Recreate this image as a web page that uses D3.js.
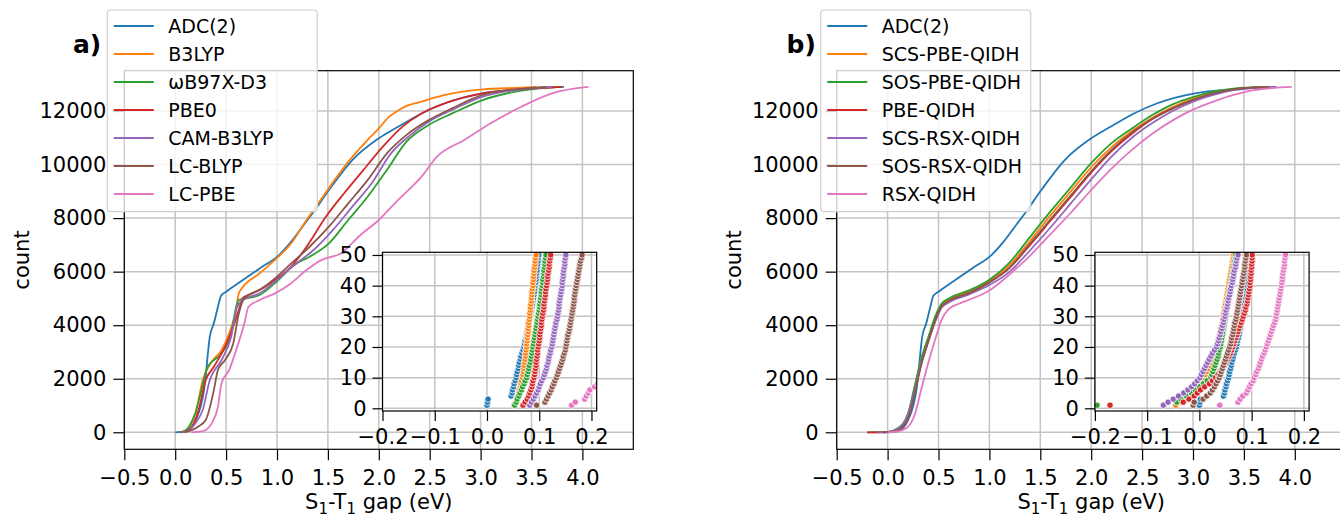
<!DOCTYPE html>
<html lang="en">
<head>
<meta charset="utf-8">
<title>S1-T1 gap cumulative counts</title>
<script src="https://cdn.jsdelivr.net/npm/d3@7"></script>
<style>
  body { margin: 0; background: #fff; }
  svg { display: block; font-family: "DejaVu Sans", sans-serif; }
</style>
</head>
<body>
<script>
// colours (matplotlib tab10)
var colors = ['#1f77b4', '#ff7f0e', '#2ca02c', '#d62728', '#9467bd', '#8c564b', '#e377c2'];

var namesA = ['ADC(2)', 'B3LYP', '\u03c9B97X-D3', 'PBE0', 'CAM-B3LYP', 'LC-BLYP', 'LC-PBE'];
var namesB = ['ADC(2)', 'SCS-PBE-QIDH', 'SOS-PBE-QIDH', 'PBE-QIDH', 'SCS-RSX-QIDH', 'SOS-RSX-QIDH', 'RSX-QIDH'];

var xTicks = [-0.5, 0, 0.5, 1, 1.5, 2, 2.5, 3, 3.5, 4];
var yTicks = [0, 2000, 4000, 6000, 8000, 10000, 12000];
var insetXTicks = [-0.2, -0.1, 0, 0.1, 0.2];
var insetYTicks = [0, 10, 20, 30, 40, 50];

// cumulative count vs gap (eV): [gap, count]
var adc2 = [[0.0,0],[0.1,45],[0.15,150],[0.2,450],[0.25,960],[0.28,1500],[0.3,2080],[0.32,2900],[0.34,3570],[0.38,4070],[0.42,4690],[0.45,5100],[0.5,5250],[0.64,5620],[0.83,6120],[1.02,6620],[1.14,7120],[1.25,7680],[1.36,8240],[1.51,9050],[1.74,10170],[2.0,10980],[2.19,11410],[2.42,11910],[2.65,12290],[3.02,12660],[3.40,12810],[3.82,12900]];
var b3lyp = [[0.05,0],[0.09,50],[0.15,250],[0.2,700],[0.27,1950],[0.36,2640],[0.455,3070],[0.53,3700],[0.59,4440],[0.625,5190],[0.65,5350],[0.83,5940],[0.98,6440],[1.14,7060],[1.29,7930],[1.44,8740],[1.59,9550],[1.74,10290],[1.89,10920],[2.0,11350],[2.1,11780],[2.19,12020],[2.28,12200],[2.42,12350],[2.65,12600],[3.02,12810],[3.40,12870],[3.55,12900]];
var wb97xd3 = [[0.05,0],[0.1,60],[0.15,300],[0.2,750],[0.25,1460],[0.32,2450],[0.455,2950],[0.55,3700],[0.6,4690],[0.625,4940],[0.7,5000],[0.83,5130],[0.98,5570],[1.17,6250],[1.32,6560],[1.51,7060],[1.70,7930],[1.89,8800],[2.08,9800],[2.27,10850],[2.49,11480],[2.72,11910],[3.02,12410],[3.40,12760],[3.78,12900]];
var pbe0 = [[0.06,0],[0.12,50],[0.18,300],[0.23,830],[0.30,1950],[0.38,2450],[0.49,3200],[0.57,3940],[0.625,4570],[0.66,5000],[0.7,5100],[0.83,5320],[0.98,5690],[1.14,6190],[1.29,6930],[1.48,8050],[1.66,8930],[1.85,9800],[2.04,10670],[2.23,11410],[2.42,11910],[2.65,12290],[3.02,12660],[3.40,12810],[3.80,12900]];
var camb3lyp = [[0.07,0],[0.13,60],[0.2,350],[0.27,830],[0.34,1950],[0.455,2700],[0.55,3570],[0.61,4690],[0.66,4940],[0.83,5190],[0.98,5630],[1.17,6250],[1.36,6810],[1.55,7560],[1.74,8430],[1.93,9300],[2.12,10420],[2.31,11100],[2.49,11600],[2.72,12040],[3.02,12540],[3.40,12810],[3.70,12900]];
var lcblyp = [[0.09,0],[0.15,60],[0.22,200],[0.30,460],[0.38,1580],[0.42,2330],[0.49,2700],[0.57,3320],[0.625,4440],[0.68,5000],[0.83,5320],[0.98,5750],[1.14,6310],[1.32,6930],[1.51,7680],[1.70,8550],[1.89,9420],[2.08,10420],[2.27,11100],[2.49,11660],[2.72,12100],[3.02,12600],[3.40,12830],[3.65,12900]];
var lcpbe = [[0.16,0],[0.25,30],[0.30,86],[0.36,340],[0.42,960],[0.455,1830],[0.53,2330],[0.61,3200],[0.68,4070],[0.72,4690],[0.83,4940],[0.98,5190],[1.14,5570],[1.29,6060],[1.44,6440],[1.63,6690],[1.82,7370],[2.0,7930],[2.19,8680],[2.42,9550],[2.57,10290],[2.84,10920],[3.10,11540],[3.40,12160],[3.70,12660],[4.06,12900]];

var scsPbeQidh = [[-0.05,0],[0.05,30],[0.15,250],[0.22,900],[0.28,1900],[0.33,2700],[0.4,3500],[0.47,4300],[0.53,4750],[0.6,4950],[0.8,5250],[1.0,5650],[1.2,6250],[1.4,7150],[1.6,8100],[1.8,9000],[2.0,9900],[2.2,10650],[2.4,11250],[2.6,11750],[2.8,12150],[3.0,12450],[3.2,12680],[3.4,12820],[3.7,12900]];
var sosPbeQidh = [[-0.2,0],[0.0,15],[0.1,150],[0.2,700],[0.27,1800],[0.33,2750],[0.4,3550],[0.47,4350],[0.53,4800],[0.6,5000],[0.8,5300],[1.0,5700],[1.2,6350],[1.4,7300],[1.6,8250],[1.8,9150],[2.0,10050],[2.2,10800],[2.4,11350],[2.6,11850],[2.8,12250],[3.0,12520],[3.2,12720],[3.4,12840],[3.7,12900]];
var pbeQidh = [[-0.2,0],[0.0,10],[0.1,100],[0.2,600],[0.27,1600],[0.33,2550],[0.4,3400],[0.47,4200],[0.53,4700],[0.6,4900],[0.8,5200],[1.0,5600],[1.2,6150],[1.4,7000],[1.6,7900],[1.8,8800],[2.0,9700],[2.2,10500],[2.4,11150],[2.6,11700],[2.8,12100],[3.0,12400],[3.2,12650],[3.4,12800],[3.75,12900]];
var scsRsxQidh = [[-0.1,0],[0.0,10],[0.1,120],[0.2,650],[0.27,1650],[0.33,2600],[0.4,3400],[0.47,4150],[0.53,4650],[0.6,4850],[0.8,5150],[1.0,5500],[1.2,6000],[1.4,6800],[1.6,7650],[1.8,8550],[2.0,9450],[2.2,10300],[2.4,11000],[2.6,11550],[2.8,12000],[3.0,12350],[3.2,12600],[3.4,12780],[3.8,12900]];
var sosRsxQidh = [[-0.05,0],[0.05,20],[0.15,200],[0.22,700],[0.28,1700],[0.34,2650],[0.4,3400],[0.47,4200],[0.53,4700],[0.6,4900],[0.8,5200],[1.0,5600],[1.2,6150],[1.4,7050],[1.6,7950],[1.8,8850],[2.0,9750],[2.2,10550],[2.4,11200],[2.6,11700],[2.8,12100],[3.0,12420],[3.2,12660],[3.4,12810],[3.75,12900]];
var rsxQidh = [[0.0,0],[0.1,30],[0.2,200],[0.27,700],[0.33,1600],[0.4,2600],[0.47,3500],[0.53,4200],[0.6,4600],[0.7,4800],[0.8,4950],[1.0,5300],[1.2,5900],[1.4,6600],[1.6,7400],[1.8,8200],[2.0,9050],[2.2,9850],[2.4,10550],[2.6,11150],[2.8,11650],[3.0,12050],[3.2,12350],[3.4,12600],[3.6,12780],[3.97,12900]];

// inset: gap (eV) of the 1st, 2nd, 3rd ... lowest molecule (count = index + 1)
var adc2Low = [0.000,0.001,0.002,0.046,0.048,0.049,0.051,0.052,0.054,0.056,0.057,0.058,0.060,0.061,0.062,0.064,0.065,0.067,0.069,0.071,0.072,0.073,0.075,0.076,0.077,0.078,0.079,0.080,0.082,0.083,0.084,0.085,0.086,0.087,0.088,0.089,0.090,0.091,0.091,0.092,0.093,0.094,0.094,0.095,0.096,0.096,0.097,0.098,0.098,0.099];
var b3lypLow = [0.052,0.055,0.057,0.059,0.061,0.062,0.064,0.065,0.066,0.068,0.069,0.070,0.071,0.071,0.072,0.073,0.074,0.074,0.075,0.076,0.076,0.077,0.077,0.078,0.079,0.079,0.080,0.080,0.081,0.082,0.082,0.083,0.083,0.084,0.085,0.085,0.086,0.086,0.087,0.088,0.088,0.089,0.089,0.090,0.090,0.091,0.092,0.092,0.093,0.094];
var wb97xd3Low = [0.053,0.056,0.058,0.061,0.063,0.066,0.068,0.071,0.073,0.076,0.077,0.079,0.080,0.081,0.083,0.084,0.085,0.086,0.087,0.088,0.089,0.090,0.091,0.092,0.093,0.094,0.095,0.096,0.097,0.098,0.099,0.100,0.101,0.101,0.102,0.103,0.104,0.104,0.105,0.106,0.107,0.107,0.108,0.109,0.109,0.110,0.111,0.111,0.112,0.113];
var pbe0Low = [0.069,0.073,0.077,0.080,0.082,0.084,0.086,0.087,0.088,0.090,0.091,0.092,0.093,0.094,0.094,0.095,0.096,0.097,0.097,0.098,0.099,0.100,0.101,0.101,0.102,0.103,0.104,0.104,0.105,0.106,0.107,0.108,0.109,0.109,0.110,0.111,0.112,0.112,0.113,0.114,0.115,0.116,0.116,0.117,0.118,0.119,0.119,0.120,0.121,0.122];
var camb3lypLow = [0.082,0.085,0.089,0.092,0.095,0.098,0.100,0.102,0.105,0.108,0.110,0.112,0.114,0.115,0.117,0.118,0.119,0.121,0.122,0.124,0.125,0.126,0.127,0.128,0.129,0.130,0.131,0.132,0.134,0.135,0.136,0.137,0.138,0.138,0.139,0.140,0.141,0.142,0.143,0.144,0.144,0.145,0.146,0.146,0.147,0.148,0.149,0.149,0.150,0.151];
var lcblypLow = [0.095,0.111,0.114,0.117,0.120,0.123,0.125,0.128,0.130,0.133,0.135,0.137,0.139,0.141,0.143,0.145,0.146,0.148,0.150,0.151,0.152,0.153,0.154,0.155,0.157,0.158,0.159,0.160,0.161,0.162,0.163,0.164,0.165,0.166,0.167,0.167,0.168,0.169,0.170,0.171,0.172,0.173,0.174,0.175,0.176,0.177,0.178,0.179,0.181,0.182];
var lcpbeLow = [0.162,0.169,0.187,0.190,0.194,0.197,0.206,0.212,0.216,0.219];

var scsPbeQidhLow = [-0.045,-0.040,-0.035,-0.028,-0.020,-0.014,-0.008,-0.002,0.004,0.008,0.011,0.014,0.017,0.020,0.022,0.025,0.027,0.029,0.031,0.033,0.034,0.036,0.037,0.039,0.040,0.041,0.043,0.044,0.045,0.046,0.047,0.048,0.049,0.050,0.051,0.052,0.053,0.054,0.055,0.056,0.057,0.058,0.059,0.060,0.061,0.062,0.063,0.064,0.065,0.066];
var sosPbeQidhLow = [-0.196,-0.043,-0.036,-0.025,-0.015,-0.008,0.000,0.008,0.015,0.022,0.024,0.026,0.028,0.030,0.032,0.034,0.036,0.037,0.038,0.040,0.041,0.042,0.043,0.044,0.045,0.046,0.047,0.048,0.049,0.050,0.051,0.052,0.053,0.054,0.055,0.056,0.057,0.058,0.059,0.060,0.061,0.062,0.063,0.064,0.065,0.066,0.067,0.068,0.069,0.070];
var pbeQidhLow = [-0.171,-0.031,-0.020,-0.010,-0.004,0.002,0.010,0.019,0.025,0.031,0.036,0.040,0.044,0.048,0.051,0.054,0.057,0.060,0.062,0.064,0.066,0.068,0.070,0.072,0.074,0.076,0.078,0.080,0.082,0.084,0.086,0.088,0.089,0.091,0.092,0.093,0.094,0.095,0.096,0.097,0.097,0.098,0.098,0.099,0.099,0.100,0.100,0.101,0.101,0.101];
var scsRsxQidhLow = [-0.069,-0.060,-0.050,-0.040,-0.030,-0.022,-0.015,-0.009,-0.004,0.001,0.004,0.007,0.010,0.013,0.016,0.019,0.022,0.025,0.029,0.033,0.035,0.037,0.038,0.040,0.041,0.043,0.044,0.046,0.047,0.049,0.050,0.051,0.053,0.054,0.055,0.056,0.058,0.059,0.060,0.061,0.063,0.064,0.065,0.066,0.067,0.069,0.070,0.071,0.072,0.074];
var sosRsxQidhLow = [-0.012,-0.010,0.007,0.014,0.021,0.025,0.029,0.032,0.035,0.038,0.040,0.042,0.044,0.046,0.048,0.050,0.052,0.054,0.056,0.058,0.060,0.061,0.062,0.064,0.065,0.066,0.067,0.068,0.070,0.071,0.072,0.073,0.074,0.075,0.076,0.077,0.078,0.079,0.080,0.081,0.082,0.083,0.084,0.085,0.086,0.087,0.087,0.088,0.089,0.090];
var rsxQidhLow = [0.039,0.074,0.078,0.083,0.090,0.093,0.096,0.099,0.103,0.105,0.108,0.110,0.113,0.115,0.117,0.119,0.121,0.124,0.126,0.128,0.130,0.132,0.134,0.136,0.138,0.140,0.142,0.144,0.146,0.147,0.148,0.149,0.150,0.151,0.152,0.153,0.154,0.155,0.156,0.157,0.158,0.159,0.159,0.160,0.161,0.162,0.163,0.163,0.164,0.165];

var panels = [
  { ox: 124.3, tag: 'a)', tagX: 73, legX: 107.3, names: namesA,
    curves: [adc2, b3lyp, wb97xd3, pbe0, camb3lyp, lcblyp, lcpbe],
    low: [adc2Low, b3lypLow, wb97xd3Low, pbe0Low, camb3lypLow, lcblypLow, lcpbeLow] },
  { ox: 836.7, tag: 'b)', tagX: 786.5, legX: 820.7, names: namesB,
    curves: [adc2, scsPbeQidh, sosPbeQidh, pbeQidh, scsRsxQidh, sosRsxQidh, rsxQidh],
    low: [adc2Low, scsPbeQidhLow, sosPbeQidhLow, pbeQidhLow, scsRsxQidhLow, sosRsxQidhLow, rsxQidhLow] }
];

var width = 1340, height = 517;
var svg = d3.select('body').append('svg').attr('width', width).attr('height', height);

var axTop = 70.7, axBottom = 449.3, axW = 509;
var tickFont = 21, gridColor = '#c4c4c4';

function styleAxis(g) {
  g.select('.domain').remove();
  g.selectAll('.tick line').attr('stroke', '#000').attr('stroke-width', 1.2);
  g.selectAll('.tick text').attr('font-size', tickFont).attr('fill', '#000')
    .attr('font-family', '"DejaVu Sans", sans-serif');
}
function fmt(d) { return d3.format('.1f')(d).replace('-', '\u2212'); }

panels.forEach(function(p, pi) {
  var g = svg.append('g');
  var x = d3.scaleLinear().domain([-0.5, 4.5]).range([p.ox, p.ox + axW]);
  var y = d3.scaleLinear().domain([-635, 13506]).range([axBottom, axTop]);

  // grid
  g.append('g').selectAll('line').data(xTicks).enter().append('line')
    .attr('x1', d => x(d)).attr('x2', d => x(d)).attr('y1', axTop).attr('y2', axBottom)
    .attr('stroke', gridColor).attr('stroke-width', 1.5);
  g.append('g').selectAll('line').data(yTicks).enter().append('line')
    .attr('x1', p.ox).attr('x2', p.ox + axW).attr('y1', d => y(d)).attr('y2', d => y(d))
    .attr('stroke', gridColor).attr('stroke-width', 1.5);

  // curves
  var clipId = 'clip' + pi;
  svg.append('clipPath').attr('id', clipId).append('rect')
    .attr('x', p.ox).attr('y', axTop).attr('width', axW).attr('height', axBottom - axTop);
  var line = d3.line().x(d => x(d[0])).y(d => y(d[1])).curve(d3.curveMonotoneX);
  g.append('g').attr('clip-path', 'url(#' + clipId + ')')
    .selectAll('path').data(p.curves).enter().append('path')
    .attr('d', line).attr('fill', 'none')
    .attr('stroke', (d, i) => colors[i]).attr('stroke-width', 1.8);

  // frame
  g.append('rect').attr('x', p.ox).attr('y', axTop).attr('width', axW).attr('height', axBottom - axTop)
    .attr('fill', 'none').attr('stroke', '#000').attr('stroke-width', 1.2);

  // axes
  g.append('g').attr('transform', 'translate(0,' + axBottom + ')')
    .call(d3.axisBottom(x).tickValues(xTicks).tickSize(11).tickPadding(10).tickFormat(fmt))
    .call(styleAxis);
  g.append('g').attr('transform', 'translate(' + p.ox + ',0)')
    .call(d3.axisLeft(y).tickValues(yTicks).tickSize(11).tickPadding(7).tickFormat(d3.format('d')))
    .call(styleAxis);

  // labels
  var xl = g.append('text').attr('x', p.ox + axW / 2).attr('y', 509)
    .attr('text-anchor', 'middle').attr('font-size', 21);
  xl.append('tspan').text('S');
  xl.append('tspan').attr('dy', 5).attr('font-size', 15).text('1');
  xl.append('tspan').attr('dy', -5).text('-T');
  xl.append('tspan').attr('dy', 5).attr('font-size', 15).text('1');
  xl.append('tspan').attr('dy', -5).text(' gap (eV)');
  g.append('text').attr('transform', 'translate(' + (p.ox - 95.8) + ',260) rotate(-90)')
    .attr('text-anchor', 'middle').attr('font-size', 21).text('count');

  // inset
  var ix0 = p.ox + 258.2, ix1 = p.ox + 472.4, iy0 = 411, iy1 = 252.3;
  var ix = d3.scaleLinear().domain([-0.2, 0.21]).range([ix0, ix1]);
  var iy = d3.scaleLinear().domain([-0.88, 50.87]).range([iy0, iy1]);
  var ig = g.append('g');
  ig.append('rect').attr('x', ix0).attr('y', iy1).attr('width', ix1 - ix0).attr('height', iy0 - iy1)
    .attr('fill', '#fff');
  ig.append('g').selectAll('line').data(insetXTicks).enter().append('line')
    .attr('x1', d => ix(d)).attr('x2', d => ix(d)).attr('y1', iy1).attr('y2', iy0)
    .attr('stroke', gridColor).attr('stroke-width', 1.5);
  ig.append('g').selectAll('line').data(insetYTicks).enter().append('line')
    .attr('x1', ix0).attr('x2', ix1).attr('y1', d => iy(d)).attr('y2', d => iy(d))
    .attr('stroke', gridColor).attr('stroke-width', 1.5);
  var iclip = 'iclip' + pi;
  svg.append('clipPath').attr('id', iclip).append('rect')
    .attr('x', ix0).attr('y', iy1).attr('width', ix1 - ix0).attr('height', iy0 - iy1);
  var dots = ig.append('g').attr('clip-path', 'url(#' + iclip + ')');
  p.low.forEach(function(s, si) {
    dots.append('g').selectAll('circle').data(s).enter().append('circle')
      .attr('cx', d => ix(d)).attr('cy', (d, i) => iy(i + 1)).attr('r', 3.2)
      .attr('fill', colors[si]).attr('stroke', '#fff').attr('stroke-width', 0.8);
  });
  ig.append('rect').attr('x', ix0).attr('y', iy1).attr('width', ix1 - ix0).attr('height', iy0 - iy1)
    .attr('fill', 'none').attr('stroke', '#000').attr('stroke-width', 1.2);
  ig.append('g').attr('transform', 'translate(0,' + iy0 + ')')
    .call(d3.axisBottom(ix).tickValues(insetXTicks).tickSize(10).tickPadding(8).tickFormat(fmt))
    .call(styleAxis);
  ig.append('g').attr('transform', 'translate(' + ix0 + ',0)')
    .call(d3.axisLeft(iy).tickValues(insetYTicks).tickSize(10).tickPadding(6).tickFormat(d3.format('d')))
    .call(styleAxis);

  // panel tag
  g.append('text').attr('x', p.tagX).attr('y', 53).attr('font-size', 25).attr('font-weight', 'bold')
    .text(p.tag);

  // legend
  var lg = g.append('g').attr('transform', 'translate(' + p.legX + ',10)');
  lg.append('rect').attr('width', 210).attr('height', 201.7).attr('rx', 3.5)
    .attr('fill', '#fff').attr('fill-opacity', 0.8).attr('stroke', '#d0d0d0').attr('stroke-width', 1.2);
  var items = lg.selectAll('g.item').data(p.names).enter().append('g')
    .attr('transform', (d, i) => 'translate(0,' + (16 + i * 28) + ')');
  items.append('line').attr('x1', 6.5).attr('x2', 46.5)
    .attr('stroke', (d, i) => colors[i]).attr('stroke-width', 1.8);
  items.append('text').attr('x', 61).attr('dy', '0.36em').attr('font-size', 19).text(d => d);
});
</script>
</body>
</html>
